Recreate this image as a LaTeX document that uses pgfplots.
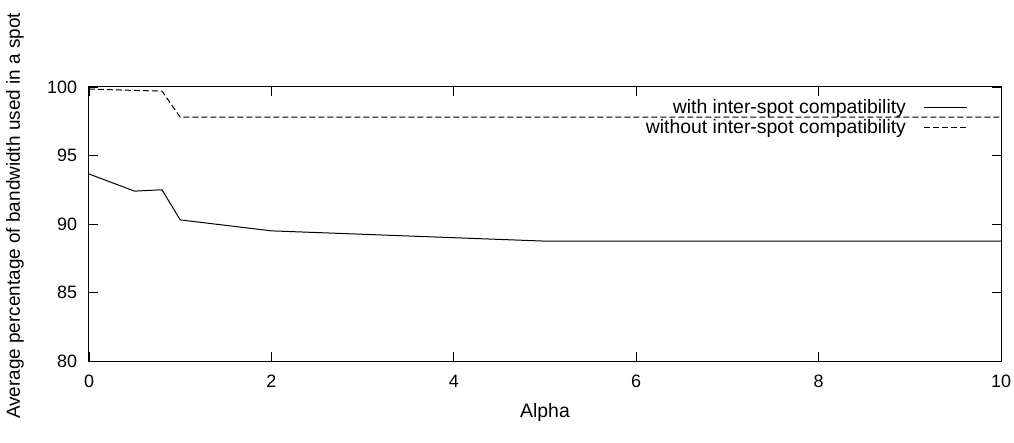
\documentclass[border=0pt]{standalone}
\usepackage{fontspec}
\setmainfont{Liberation Sans}
\usepackage{pgfplots}
\pgfplotsset{compat=1.18}
\begin{document}
\fontsize{17}{20}\selectfont
\begin{tikzpicture}
\begin{axis}[
  name=ax,
  scale only axis,
  width=912bp, height=274bp,
  xmin=0, xmax=10, ymin=80, ymax=100,
  xtick={0,2,...,10}, ytick={80,85,...,100},
  tick align=inside, major tick length=9bp,
  axis line style={line width=1bp},
  tick style={line width=0.8bp, black},
  /pgf/number format/assume math mode=true,
  ticklabel style={font=\fontsize{18}{21}\selectfont},
  xticklabel style={yshift=-8bp},
  yticklabel style={xshift=-6bp},
  xlabel={Alpha},
  ylabel={Average percentage of bandwidth used in a spot},
  label style={font=\fontsize{19.5}{23}\selectfont},
  xlabel style={at={(axis description cs:0.5,0)},anchor=center,yshift=-51bp},
  ylabel style={at={(axis description cs:0,0.5)},anchor=center,rotate=0,yshift=74bp,xshift=8bp,font=\fontsize{19}{23}\selectfont},
  legend style={draw=none, fill=none, at={(axis description cs:0.964,0.962)}, anchor=north east,
    font=\fontsize{19.5}{23}\selectfont, row sep=-1bp, inner sep=0pt, cells={anchor=east}},
  legend cell align=right,
  legend plot pos=right,
  legend image code/.code={\path (0bp,0bp); \draw[#1] (16bp,0bp) -- (59bp,0bp);},
]
\addplot[black, line width=1bp] coordinates {(0,93.65) (0.5,92.4) (0.8,92.5) (1,90.3) (2,89.5) (5,88.75) (10,88.75)};
\addlegendentry{with inter-spot compatibility}
\addplot[black, line width=1bp, dash pattern=on 6bp off 3bp] coordinates {(0,99.85) (0.5,99.75) (0.8,99.7) (1,97.8) (2,97.8) (5,97.8) (10,97.8)};
\addlegendentry{without inter-spot compatibility}
\end{axis}
\pgfresetboundingbox
\useasboundingbox ([shift={(-89bp,-82bp)}]ax.south west) rectangle ([shift={(13bp,87bp)}]ax.north east);
\end{tikzpicture}
\end{document}
